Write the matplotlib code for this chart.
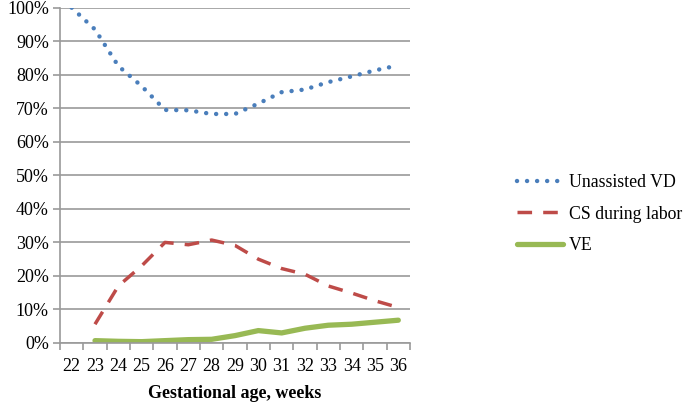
import numpy as np
import matplotlib
matplotlib.use("Agg")
import matplotlib.pyplot as plt
from matplotlib.ticker import PercentFormatter

# weeks on the x axis
weeks = [22, 23, 24, 25, 26, 27, 28, 29, 30, 31, 32, 33, 34, 35, 36]

# percentages
unassisted_vd = [100, 93.5, 82.6, 76.6, 69.5, 69.4, 68.3, 68.3, 71.4, 74.8, 75.6, 77.8, 79.5, 81.3, 82.8]
cs_labor = [None, 5.6, 17.0, 23.0, 30.0, 29.3, 30.7, 29.1, 25.0, 22.2, 20.5, 17.0, 14.9, 12.6, 10.6]
ve = [None, 0.7, 0.5, 0.4, 0.7, 1.0, 1.1, 2.2, 3.7, 3.0, 4.4, 5.3, 5.6, 6.2, 6.8]

labels = ["Unassisted VD", "CS during labor", "VE"]

plt.rcParams['font.family'] = ['Liberation Serif', 'DejaVu Serif']

fig = plt.figure(figsize=(6.85, 4.04), dpi=100)
ax = fig.add_axes([0.0876, 0.151, 0.5109, 0.830])

x = np.arange(len(weeks))

def clean(vals):
    return np.array([np.nan if v is None else v for v in vals], dtype=float)

ax.plot(x, clean(unassisted_vd), color='#4A7EBB', lw=3.2,
        linestyle=(0, (0.01, 2.25)), dash_capstyle='round', label=labels[0])
ax.plot(x, clean(cs_labor), color='#BE4B48', lw=2.5,
        linestyle=(0, (4.2, 3.2)), label=labels[1])
ax.plot(x, clean(ve), color='#98B954', lw=3.8, solid_capstyle='round',
        label=labels[2])

ax.set_xlim(-0.5, len(weeks) - 0.5)
ax.set_ylim(0, 100)
ax.set_yticks(np.arange(0, 101, 10))
ax.yaxis.set_major_formatter(PercentFormatter(decimals=0))
ax.set_xticks(x)
ax.set_xticklabels([str(w) for w in weeks])
ax.set_xticks(np.arange(-0.5, len(weeks), 1), minor=True)

ax.grid(axis='y', color='#9a9a9a', lw=1.2)
ax.set_axisbelow(True)
for s in ['top', 'right']:
    ax.spines[s].set_visible(False)
ax.spines['left'].set_color('#9a9a9a')
ax.spines['bottom'].set_color('#9a9a9a')
ax.spines['left'].set_linewidth(1.2)
ax.spines['bottom'].set_linewidth(1.2)

ax.tick_params(axis='x', which='major', length=0, labelsize=13, pad=11)
ax.tick_params(axis='x', which='minor', length=5, color='#9a9a9a', width=1.2)
ax.tick_params(axis='y', length=5, color='#9a9a9a', width=1.2, labelsize=13, pad=3)

ax.set_xlabel("Gestational age, weeks", fontsize=13, fontweight='bold', labelpad=7)

fig.legend(loc='center left', bbox_to_anchor=(0.755, 0.47), frameon=False,
           fontsize=12.8, handlelength=2.6, handletextpad=0.3,
           labelspacing=0.8, borderpad=0, borderaxespad=0)

fig.savefig("out.png", dpi=100)
